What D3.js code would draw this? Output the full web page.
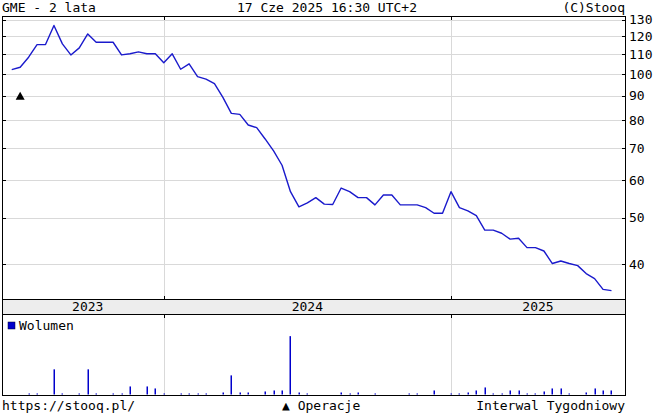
<!DOCTYPE html>
<html><head><meta charset="utf-8">
<script src="https://cdn.jsdelivr.net/npm/d3@7"></script>
<style>
body{margin:0;background:#fff}
text{font-family:"DejaVu Sans Mono",monospace;font-size:13px;fill:#000}
</style>
</head><body><svg id="c" width="654" height="417"></svg>
<script>
// ---- data (weekly closes, index-based) ----
const closes = [102.1,103.3,108.4,115.2,115.2,126.3,115.6,109.6,113.4,121.3,
  116.5,116.5,116.5,109.6,110.2,111.2,110.2,110.2,105.5,110.2,
  102.3,105.0,98.7,97.5,95.4,89.3,82.7,82.3,78.2,77.2,
  73.1,69.0,64.4,56.7,52.7,53.7,55.1,53.4,53.3,57.7,
  56.7,55.1,55.1,53.2,55.8,55.8,53.2,53.2,53.2,52.5,
  51.1,51.1,56.7,52.5,51.7,50.5,47.1,47.1,46.4,45.1,
  45.3,43.3,43.3,42.6,40.1,40.6,40.1,39.7,38.2,37.3,
  35.4,35.2];
const volumes = [0,0,1,1,0,25,1,0,1,25,
  1,0,1,1,8,0,8,6,1,0,
  1,1,1,1,0,2,19,2,2,0,
  3,4,4,58,2,1,0,0,0,2,
  1,2,0,1,0,0,0,1,1,0,
  4,0,1,1,2,4,7,1,1,4,
  4,1,1,3,6,6,1,0,2,6,
  4,4];
const yearLabels = ["2023","2024","2025"];
const yearStartIndex = [18, 52];
const priceTicks = [40,50,60,70,80,90,100,110,120,130];
const operations = [{index:1, level:89.8}];

// ---- layout ----
const L = 2, R = 625, T = 16, PB = 299, BB = 314, VB = 395;
const svg = d3.select("#c");
const x = d3.scaleLinear().domain([-1.15, 72.6]).range([L, R]);
const y = d3.scaleLog().domain([33.8, 131.9]).range([PB, 16.5]);
const yv = d3.scaleLinear().domain([0, 80]).range([VB - 0.5, BB]);
const grid = "#d9d9d9";
const blue = "#1a1acc";

// gridlines price
const g = svg.append("g").attr("shape-rendering", "crispEdges");
g.selectAll(".hg").data(priceTicks).join("line")
  .attr("x1", L).attr("x2", R)
  .attr("y1", d => Math.round(y(d)) + 0.5).attr("y2", d => Math.round(y(d)) + 0.5)
  .attr("stroke", grid);
g.selectAll(".vg").data(yearStartIndex).join("line")
  .attr("x1", d => Math.round(x(d)) + 0.5).attr("x2", d => Math.round(x(d)) + 0.5)
  .attr("y1", T).attr("y2", PB).attr("stroke", grid);
g.selectAll(".vgv").data(yearStartIndex).join("line")
  .attr("x1", d => Math.round(x(d)) + 0.5).attr("x2", d => Math.round(x(d)) + 0.5)
  .attr("y1", BB).attr("y2", VB).attr("stroke", grid);

// year band
svg.append("rect").attr("x", L).attr("y", PB).attr("width", R - L).attr("height", BB - PB)
  .attr("fill", "#ededed");
const bounds = [x(0), ...yearStartIndex.map(x), R];
yearLabels.forEach((lab, i) => {
  svg.append("text").attr("x", (bounds[i] + bounds[i + 1]) / 2).attr("y", 311)
    .attr("text-anchor", "middle").text(lab);
});

// frames
const f = svg.append("g").attr("shape-rendering", "crispEdges").attr("stroke", "#000").attr("fill", "none");
f.append("rect").attr("x", L + 0.5).attr("y", T + 0.5).attr("width", R - L).attr("height", PB - T);
f.append("rect").attr("x", L + 0.5).attr("y", PB + 0.5).attr("width", R - L).attr("height", BB - PB);
f.append("rect").attr("x", L + 0.5).attr("y", BB + 0.5).attr("width", R - L).attr("height", VB - BB);

// ticks
priceTicks.forEach(t => {
  const yy = Math.round(y(t)) + 0.5;
  f.append("line").attr("x1", L).attr("x2", L + 4).attr("y1", yy).attr("y2", yy);
  f.append("line").attr("x1", R - 3).attr("x2", R + 1).attr("y1", yy).attr("y2", yy);
  svg.append("text").attr("x", R + 4).attr("y", y(t)).attr("dy", "0.36em").text(t);
});
yearStartIndex.forEach(i => {
  const xx = Math.round(x(i)) + 0.5;
  f.append("line").attr("x1", xx).attr("x2", xx).attr("y1", T).attr("y2", T + 4);
  f.append("line").attr("x1", xx).attr("x2", xx).attr("y1", PB - 3).attr("y2", PB);
  f.append("line").attr("x1", xx).attr("x2", xx).attr("y1", BB).attr("y2", BB + 4);
});

// price line
svg.append("path").datum(closes)
  .attr("d", d3.line().x((d, i) => x(i)).y(d => y(d)))
  .attr("fill", "none").attr("stroke", blue).attr("stroke-width", 1.4)
  .attr("stroke-linejoin", "round");

// operation markers
operations.forEach(o => {
  const cx = x(o.index), cy = y(o.level);
  svg.append("path").attr("d", `M${cx},${cy - 4.5}L${cx + 4.5},${cy + 3.5}L${cx - 4.5},${cy + 3.5}Z`)
    .attr("fill", "#000");
});

// volume bars
svg.append("g").selectAll("rect").data(volumes).join("rect")
  .attr("x", (d, i) => Math.round(x(i)) - 0.5).attr("width", 1.5)
  .attr("y", d => yv(d)).attr("height", d => yv(0) - yv(d))
  .attr("fill", "#0000cc");

// legend
svg.append("rect").attr("x", 8).attr("y", 322).attr("width", 7).attr("height", 7)
  .attr("fill", "#0000cc").attr("stroke", "#000033").attr("stroke-width", 0.5);
svg.append("text").attr("x", 19).attr("y", 330).text("Wolumen");

// header/footer
svg.append("text").attr("x", 2).attr("y", 12).text("GME - 2 lata");
svg.append("text").attr("x", 327).attr("y", 12).attr("text-anchor", "middle").text("17 Cze 2025 16:30 UTC+2");
svg.append("text").attr("x", 625).attr("y", 12).attr("text-anchor", "end").text("(C)Stooq");
svg.append("text").attr("x", 2).attr("y", 410).text("https://stooq.pl/");
svg.append("text").attr("x", 282).attr("y", 410).text("▲ Operacje");
svg.append("text").attr("x", 625).attr("y", 410).attr("text-anchor", "end").text("Interwal Tygodniowy");
</script>
</body></html>
